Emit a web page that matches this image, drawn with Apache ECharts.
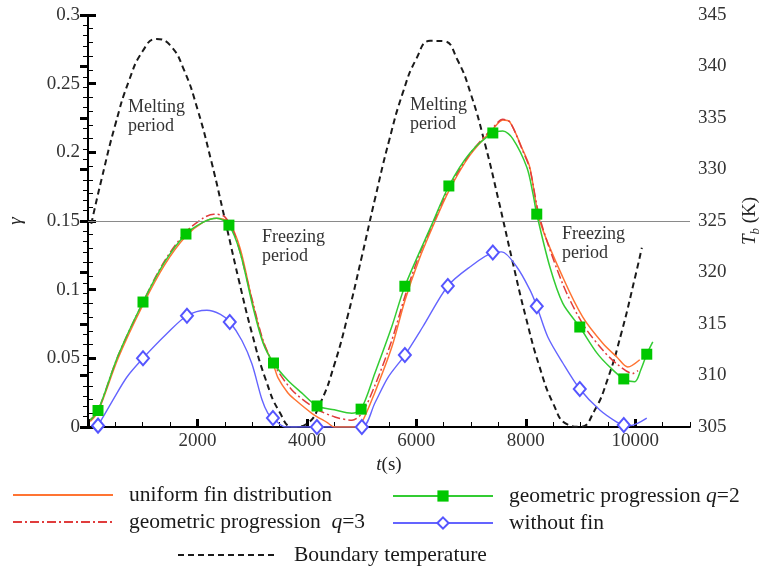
<!DOCTYPE html>
<html><head><meta charset="utf-8">
<script src="https://cdn.jsdelivr.net/npm/echarts@6/dist/echarts.min.js"></script>
<style>html,body{margin:0;padding:0;background:#fff}#c{width:761px;height:574px}</style>
</head><body><div id="c"></div>
<script>
// ---- data (t in s, gamma) ----
const uniformT = [40,183,550,1005,1400,1790,2100,2350,2575,2780,3010,3200,3390,3470,3650,3780,4090,4380,4500,4900,5000,5240,5550,5790,6050,6300,6594,6980,7400,7580,7710,7945,8073,8256,8676,9041,9406,9662,9863,10082];
const uniformV = [0.004,0.011,0.050,0.089,0.118,0.139,0.149,0.152,0.149,0.130,0.090,0.062,0.045,0.036,0.025,0.020,0.010,0.003,0.000,0.000,0.003,0.025,0.058,0.092,0.122,0.146,0.172,0.198,0.217,0.2235,0.222,0.2017,0.189,0.150,0.109,0.080,0.061,0.051,0.0437,0.049];

const q3T = [40,183,550,1005,1400,1790,2100,2300,2500,2700,3010,3200,3390,3726,4146,4511,4822,5004,5240,5550,5790,6050,6300,6594,6980,7400,7580,7710,7945,8073,8256,8676,9041,9406,9662,9954,10050];
const q3V = [0.005,0.012,0.052,0.091,0.121,0.142,0.152,0.155,0.153,0.138,0.091,0.063,0.046,0.027,0.0138,0.0073,0.005,0.010,0.030,0.063,0.095,0.125,0.148,0.174,0.199,0.218,0.224,0.222,0.201,0.188,0.152,0.104,0.075,0.056,0.046,0.039,0.041];

const q2T = [40,183,550,1005,1400,1790,2100,2350,2575,2780,3010,3200,3390,3650,3900,4185,4500,4820,4990,5240,5550,5790,6300,6594,6980,7397,7580,7760,8020,8130,8200,8440,8676,8986,9297,9534,9790,9990,10100,10210,10320];
const q2V = [0.005,0.012,0.052,0.091,0.120,0.1405,0.149,0.152,0.147,0.127,0.088,0.061,0.0466,0.034,0.025,0.0153,0.0125,0.010,0.013,0.039,0.073,0.1025,0.149,0.1755,0.1995,0.2141,0.2155,0.210,0.189,0.170,0.155,0.1165,0.090,0.0728,0.054,0.0437,0.035,0.033,0.0415,0.053,0.062];
const q2Marks = [183,1005,1790,2575,3390,4185,4990,5790,6594,7397,8200,8986,9790,10210];

const noFinT = [183,457,712,1005,1443,1808,2173,2420,2590,2812,2995,3178,3288,3379,3600,4183,5004,5242,5480,5790,6118,6575,6977,7397,7560,7836,8073,8200,8402,8676,8986,9352,9662,9790,9900,10210];
const noFinV = [0.001,0.0197,0.0364,0.050,0.068,0.081,0.085,0.082,0.0765,0.063,0.046,0.020,0.010,0.0066,0.000,0.000,0.000,0.0175,0.036,0.0524,0.073,0.1027,0.1165,0.127,0.1275,0.1165,0.100,0.088,0.0655,0.0466,0.0277,0.0124,0.0036,0.0015,0.001,0.0065];
const noFinMarks = [183,1005,1808,2590,3379,4183,5004,5790,6575,7397,8200,8986,9790];

// Boundary temperature (K)
const boundT = [60,250,500,750,1000,1250,1500,1750,2000,2250,2500,2750,3000,3250,3500,3750,4000,4250,4500,4750,5000,5250,5500,5750,6000,6250,6500,6750,7000,7250,7500,7750,8000,8250,8500,8750,9000,9250,9500,9750,10000,10120];
const boundV = [324.73,329.11,334.38,338.64,341.50,342.68,342.07,339.72,335.87,330.87,325.20,319.40,314.02,309.56,306.45,304.99,305.32,307.39,311.03,315.87,321.47,327.29,332.77,337.41,340.75,342.49,342.46,340.65,337.25,332.57,327.06,321.24,315.66,310.86,307.28,305.27,305.02,306.55,309.72,314.21,319.62,322.40];

const refGamma = 0.15;
const xTicksMajor = 2000, xTicksMinor = 500;

// ---- build ----
const FF = '"Liberation Serif", "Times New Roman", serif';
function build(T, V, marks) {
  return T.map((t, i) => (marks && marks.indexOf(t) >= 0) ? [t, V[i]] : { value: [t, V[i]], symbol: 'none' });
}

const chart = echarts.init(document.getElementById('c'), null, { renderer: 'canvas' });

const lblStyle = { color: '#333', fontSize: 19, fontFamily: FF };
const legendText = {
  fontFamily: FF, fontSize: 21.5, color: '#1a1a1a', padding: [0, 0, 0, 11],
  rich: { i: { fontFamily: FF, fontSize: 21.5, fontStyle: 'italic', color: '#1a1a1a' } }
};
function legendFmt(name) {
  if (name === 'geometric progression q=2') return 'geometric progression {i|q}=2';
  if (name === 'geometric progression q=3') return 'geometric progression  {i|q}=3';
  return name;
}
function leg(left, top, name, hideSymbol) {
  return {
    left: left, top: top, padding: 0, itemWidth: 100, itemHeight: 14, selectedMode: false,
    data: [hideSymbol ? { name: name, itemStyle: { opacity: 0 } } : name],
    textStyle: legendText, formatter: legendFmt
  };
}

const option = {
  animation: false,
  backgroundColor: '#fff',
  grid: { left: 88, right: 71, top: 15, bottom: 147, containLabel: false, outerBoundsMode: 'none' },
  xAxis: [
    {
      type: 'value', min: 0, max: 11000, interval: xTicksMajor, position: 'bottom',
      axisLine: { lineStyle: { color: '#000', width: 2 } },
      axisTick: { inside: true, length: 8, lineStyle: { color: '#000', width: 3 } },
      axisLabel: Object.assign({ margin: 5, showMaxLabel: false, formatter: v => v === 0 ? '' : String(v) }, lblStyle),
      splitLine: { show: false },
      name: '{i|t}{n|(s)}', nameLocation: 'middle', nameGap: 19,
      nameTextStyle: { rich: { i: { fontFamily: FF, fontSize: 19, fontStyle: 'italic', color: '#222' }, n: { fontFamily: FF, fontSize: 19, color: '#222' } } }
    },
    {
      type: 'value', min: 0, max: 11000, interval: xTicksMinor, position: 'bottom',
      axisLine: { show: false },
      axisTick: { inside: true, length: 5, lineStyle: { color: '#000', width: 1 } },
      axisLabel: { show: false }, splitLine: { show: false }
    }
  ],
  yAxis: [
    {
      type: 'value', min: 0, max: 0.3, interval: 0.05, position: 'left',
      axisLine: { show: true, lineStyle: { color: '#000', width: 2 } },
      axisTick: { show: true, inside: true, length: 8, lineStyle: { color: '#000', width: 3 } },
      minorTick: { show: true, splitNumber: 5, length: 5, lineStyle: { color: '#000', width: 1 } },
      axisLabel: Object.assign({ margin: 8 }, lblStyle),
      splitLine: { show: false },
      name: '{i|γ}', nameLocation: 'middle', nameGap: 63, nameRotate: 90,
      nameTextStyle: { rich: { i: { fontFamily: FF, fontSize: 19, fontStyle: 'italic', color: '#222' } } }
    },
    {
      type: 'value', min: 305, max: 345, interval: 5, position: 'right',
      axisLine: { show: true, lineStyle: { color: '#000', width: 2 } },
      axisTick: { show: true, inside: true, length: 8, lineStyle: { color: '#000', width: 3 } },
      minorTick: { show: true, splitNumber: 5, length: 5, lineStyle: { color: '#000', width: 1 } },
      axisLabel: Object.assign({ margin: 8 }, lblStyle),
      splitLine: { show: false },
      name: '{i|T}{s|b}{n| (K)}', nameLocation: 'middle', nameGap: 48, nameRotate: 90,
      nameTextStyle: { rich: {
        i: { fontFamily: FF, fontSize: 19, fontStyle: 'italic', color: '#222', lineHeight: 24 },
        s: { fontFamily: FF, fontSize: 13, fontStyle: 'italic', color: '#222', lineHeight: 12, verticalAlign: 'bottom' },
        n: { fontFamily: FF, fontSize: 19, color: '#222', lineHeight: 24 } } }
    }
  ],
  legend: [
    leg(12, 484, 'uniform fin distribution', true),
    leg(12, 511, 'geometric progression q=3', true),
    leg(392, 485, 'geometric progression q=2', false),
    leg(392, 512, 'without fin', false),
    leg(177, 544, 'Boundary temperature', true)
  ],
  graphic: [
    { type: 'text', left: 128, top: 98, style: { text: 'Melting\nperiod', font: '18px ' + FF, fill: '#333', lineHeight: 19 } },
    { type: 'text', left: 410, top: 96, style: { text: 'Melting\nperiod', font: '18px ' + FF, fill: '#333', lineHeight: 19 } },
    { type: 'text', left: 262, top: 228, style: { text: 'Freezing\nperiod', font: '18px ' + FF, fill: '#333', lineHeight: 19 } },
    { type: 'text', left: 562, top: 225, style: { text: 'Freezing\nperiod', font: '18px ' + FF, fill: '#333', lineHeight: 19 } }
  ],
  series: [
    {
      name: 'Boundary temperature', type: 'line', xAxisIndex: 0, yAxisIndex: 1, smooth: 0.5,
      symbol: 'none', data: build(boundT, boundV),
      lineStyle: { color: '#1a1a1a', width: 2, type: [6, 4] }, itemStyle: { color: '#1a1a1a' }, z: 2
    },
    {
      name: 'without fin', type: 'line', xAxisIndex: 0, yAxisIndex: 0, smooth: 0.3,
      symbol: 'emptyDiamond', symbolSize: [12, 14], showAllSymbol: true, data: build(noFinT, noFinV, noFinMarks),
      lineStyle: { color: '#6464ff', width: 1.4 }, itemStyle: { color: '#5555ff', borderWidth: 1.3 }, z: 3
    },
    {
      name: 'uniform fin distribution', type: 'line', xAxisIndex: 0, yAxisIndex: 0, smooth: 0.3,
      symbol: 'none', data: build(uniformT, uniformV),
      lineStyle: { color: '#ff7433', width: 1.5 }, itemStyle: { color: '#ff7433' }, z: 3
    },
    {
      name: 'geometric progression q=3', type: 'line', xAxisIndex: 0, yAxisIndex: 0, smooth: 0.3,
      symbol: 'none', data: build(q3T, q3V),
      lineStyle: { color: '#e03c3c', width: 1.5, type: [9, 3, 2, 3] }, itemStyle: { color: '#e03c3c' }, z: 4
    },
    {
      name: 'geometric progression q=2', type: 'line', xAxisIndex: 0, yAxisIndex: 0, smooth: 0.3,
      symbol: 'rect', symbolSize: 11, showAllSymbol: true, data: build(q2T, q2V, q2Marks),
      lineStyle: { color: '#33cc33', width: 1.5 }, itemStyle: { color: '#00c800' }, z: 5,
      markLine: { silent: true, symbol: ['none', 'none'], label: { show: false },
        lineStyle: { type: 'solid', color: '#8a8a8a', width: 1.2 }, data: [{ yAxis: refGamma }] }
    }
  ]
};
chart.setOption(option);
</script>
</body></html>
